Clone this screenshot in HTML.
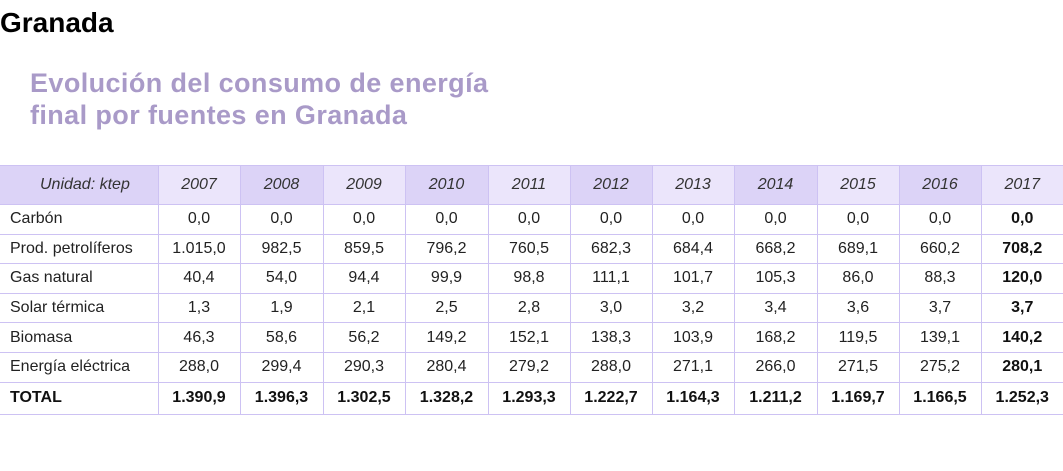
<!DOCTYPE html>
<html><head><meta charset="utf-8">
<style>
body{margin:0;width:1063px;height:471px;background:#fff;font-family:"Liberation Sans",sans-serif;overflow:hidden;position:relative}
#t1{position:absolute;left:0;top:7px;font-size:28px;font-weight:bold;color:#000;letter-spacing:0}
#t2{position:absolute;left:30px;top:67px;font-size:27px;font-weight:bold;color:#a99ac8;line-height:32px;letter-spacing:0.4px}
table{position:absolute;left:0;top:165px;border-collapse:collapse;table-layout:fixed;width:1063px;font-size:16px;color:#222}
td,th{border:1px solid #cdc2f3;padding:0;text-align:center;white-space:nowrap}
tr{height:29.6px}
tr.h{height:39px}
th{font-weight:normal;font-style:italic;color:#333}
th.d{background:#dcd3f7}th.l{background:#ebe5fb}
td:first-child{text-align:left;padding-left:10px}
td:last-child,th:last-child{border-right:none}
td:first-child,th:first-child{border-left:none}
tr.tot td{font-weight:bold;color:#111;height:31px}
td.b{font-weight:bold;color:#111}
</style></head><body>
<div id="t1">Granada</div>
<div id="t2">Evolución del consumo de energía<br>final por fuentes en Granada</div>
<table>
<colgroup><col style="width:158px"><col style="width:82px"><col style="width:83px"><col style="width:82px"><col style="width:83px"><col style="width:82px"><col style="width:82px"><col style="width:82px"><col style="width:83px"><col style="width:82px"><col style="width:82px"><col style="width:82px"></colgroup>
<tr class="h"><th class="d" style="text-align:left;padding-left:40px">Unidad: ktep</th><th class="l">2007</th><th class="d">2008</th><th class="l">2009</th><th class="d">2010</th><th class="l">2011</th><th class="d">2012</th><th class="l">2013</th><th class="d">2014</th><th class="l">2015</th><th class="d">2016</th><th class="l">2017</th></tr>
<tr><td>Carbón</td><td>0,0</td><td>0,0</td><td>0,0</td><td>0,0</td><td>0,0</td><td>0,0</td><td>0,0</td><td>0,0</td><td>0,0</td><td>0,0</td><td class="b">0,0</td></tr>
<tr><td>Prod. petrolíferos</td><td>1.015,0</td><td>982,5</td><td>859,5</td><td>796,2</td><td>760,5</td><td>682,3</td><td>684,4</td><td>668,2</td><td>689,1</td><td>660,2</td><td class="b">708,2</td></tr>
<tr><td>Gas natural</td><td>40,4</td><td>54,0</td><td>94,4</td><td>99,9</td><td>98,8</td><td>111,1</td><td>101,7</td><td>105,3</td><td>86,0</td><td>88,3</td><td class="b">120,0</td></tr>
<tr><td>Solar térmica</td><td>1,3</td><td>1,9</td><td>2,1</td><td>2,5</td><td>2,8</td><td>3,0</td><td>3,2</td><td>3,4</td><td>3,6</td><td>3,7</td><td class="b">3,7</td></tr>
<tr><td>Biomasa</td><td>46,3</td><td>58,6</td><td>56,2</td><td>149,2</td><td>152,1</td><td>138,3</td><td>103,9</td><td>168,2</td><td>119,5</td><td>139,1</td><td class="b">140,2</td></tr>
<tr><td>Energía eléctrica</td><td>288,0</td><td>299,4</td><td>290,3</td><td>280,4</td><td>279,2</td><td>288,0</td><td>271,1</td><td>266,0</td><td>271,5</td><td>275,2</td><td class="b">280,1</td></tr>
<tr class="tot"><td>TOTAL</td><td>1.390,9</td><td>1.396,3</td><td>1.302,5</td><td>1.328,2</td><td>1.293,3</td><td>1.222,7</td><td>1.164,3</td><td>1.211,2</td><td>1.169,7</td><td>1.166,5</td><td>1.252,3</td></tr>
</table>
</body></html>
